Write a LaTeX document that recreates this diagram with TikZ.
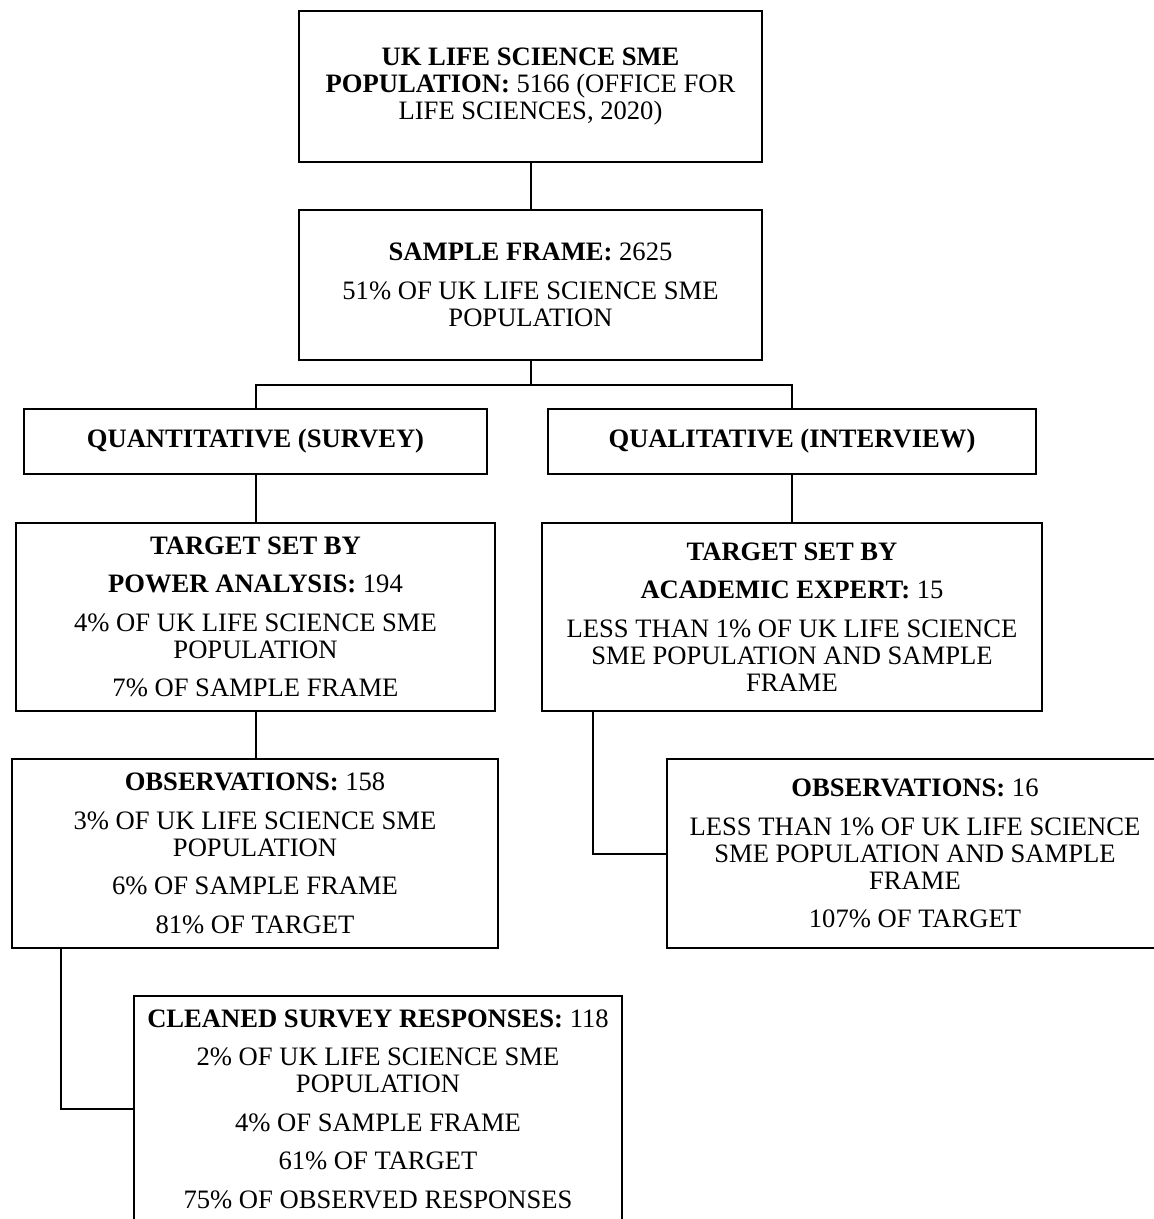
\documentclass[tikz,border=0pt]{standalone}
\usepackage{fontspec}
\setmainfont{Liberation Serif}
\begin{document}
\begin{tikzpicture}[x=1pt,y=-1pt,
  box/.style={draw, line width=2pt, rectangle, inner sep=0pt, outer sep=0pt,
    align=center, font=\fontsize{26.6}{27}\selectfont},
  link/.style={line width=2pt}]
\useasboundingbox (0,0) rectangle (1154,1219);

% population and sampling frame
\node[box, minimum width=463, minimum height=151] (pop) at (530.5,86.5)
  {\textbf{UK LIFE SCIENCE SME}\\\textbf{POPULATION:} 5166 (OFFICE FOR\\LIFE SCIENCES, 2020)};
\node[box, minimum width=463, minimum height=150] (frame) at (530.5,285)
  {\textbf{SAMPLE FRAME:} 2625\\[11.5pt]51\% OF UK LIFE SCIENCE SME\\POPULATION};

% the two strands
\node[box, minimum width=463, minimum height=65] (quant) at (255.5,441.5)
  {\textbf{QUANTITATIVE (SURVEY)}};
\node[box, minimum width=488, minimum height=65] (qual) at (792,441.5)
  {\textbf{QUALITATIVE (INTERVIEW)}};

% targets
\node[box, minimum width=479, minimum height=188] (tquant) at (255.5,617)
  {\textbf{TARGET SET BY}\\[11.5pt]\textbf{POWER ANALYSIS:} 194\\[11.5pt]4\% OF UK LIFE SCIENCE SME\\POPULATION\\[11.5pt]7\% OF SAMPLE FRAME};
\node[box, minimum width=500, minimum height=188] (tqual) at (792,617)
  {\textbf{TARGET SET BY}\\[11.5pt]\textbf{ACADEMIC EXPERT:} 15\\[11.5pt]LESS THAN 1\% OF UK LIFE SCIENCE\\SME POPULATION AND SAMPLE\\FRAME};

% observations
\node[box, minimum width=486, minimum height=189] (oquant) at (255,853.5)
  {\textbf{OBSERVATIONS:} 158\\[11.5pt]3\% OF UK LIFE SCIENCE SME\\POPULATION\\[11.5pt]6\% OF SAMPLE FRAME\\[11.5pt]81\% OF TARGET};
\node[box, minimum width=496, minimum height=189] (oqual) at (915,853.5)
  {\textbf{OBSERVATIONS:} 16\\[11.5pt]LESS THAN 1\% OF UK LIFE SCIENCE\\SME POPULATION AND SAMPLE\\FRAME\\[11.5pt]107\% OF TARGET};

% cleaned responses
\node[box, minimum width=488, minimum height=226] (clean) at (378,1109)
  {\textbf{CLEANED SURVEY RESPONSES:} 118\\[11.5pt]2\% OF UK LIFE SCIENCE SME\\POPULATION\\[11.5pt]4\% OF SAMPLE FRAME\\[11.5pt]61\% OF TARGET\\[11.5pt]75\% OF OBSERVED RESPONSES};

% connectors
\coordinate (bus) at (530.5,385);
\draw[link] (pop.south) -- (frame.north);
\draw[link] (frame.south) -- (bus);
\draw[link] (quant.north) |- (bus) -| (qual.north);
\draw[link] (quant.south) -- (tquant.north);
\draw[link] (qual.south) -- (tqual.north);
\draw[link] (tquant.south) -- (tquant.south |- oquant.north);
\draw[link] ([xshift=51pt]tqual.south west) |- (oqual.west);
\draw[link] ([xshift=49pt]oquant.south west) |- (clean.west);
\end{tikzpicture}
\end{document}
